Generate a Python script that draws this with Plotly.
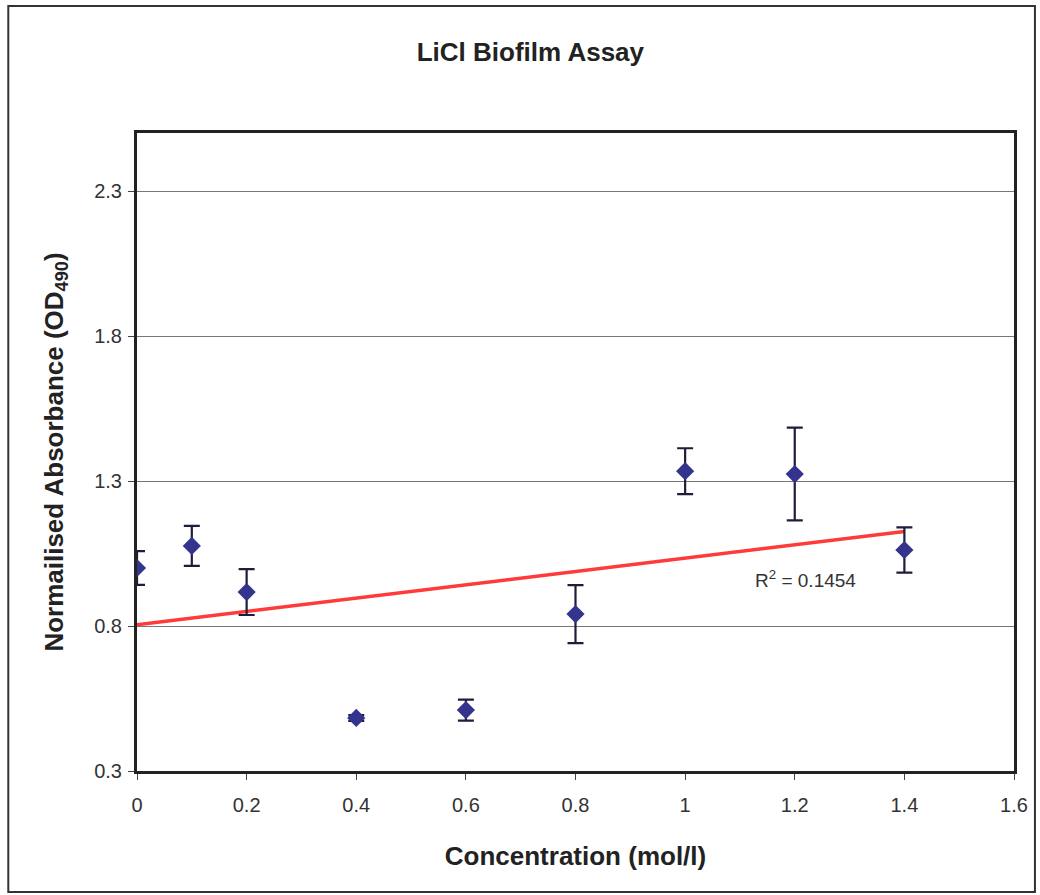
import numpy as np
import plotly.graph_objects as go

# Data
concentration = [0.0, 0.1, 0.2, 0.4, 0.6, 0.8, 1.0, 1.2, 1.4]
absorbance = [1.000, 1.076, 0.917, 0.483, 0.510, 0.841, 1.334, 1.324, 1.062]
error = [0.058, 0.069, 0.079, 0.010, 0.036, 0.100, 0.079, 0.160, 0.078]
y_ticks = [0.3, 0.8, 1.3, 1.8, 2.3]
x_ticks = [0, 0.2, 0.4, 0.6, 0.8, 1.0, 1.2, 1.4, 1.6]
r2_label = "R<sup>2</sup> = 0.1454"

# Linear trendline from the data
slope, intercept = np.polyfit(concentration, absorbance, 1)
trend_x = [min(concentration), max(concentration)]
trend_y = [slope * v + intercept for v in trend_x]

fig = go.Figure()
fig.add_trace(go.Scatter(
    x=trend_x, y=trend_y, mode="lines",
    line=dict(color="#FF3A3A", width=3.5),
    showlegend=False, hoverinfo="skip",
))
fig.add_trace(go.Scatter(
    x=concentration, y=absorbance, mode="markers",
    marker=dict(symbol="diamond", size=14, color="#34348E"),
    error_y=dict(type="data", array=error, visible=True,
                 color="#1E1E3A", thickness=2.2, width=8),
    showlegend=False,
))

L, R, T, B = 137, 24, 133, 124
W, H = 1040, 895
pw, ph = W - L - R, H - T - B

# outer chart frame (in paper coords relative to plot area)
fx0 = (8 - L) / pw
fx1 = (1037 - L) / pw
fy1 = (H - B - 6) / ph
fy0 = (H - B - 892) / ph
fig.add_shape(type="rect", xref="paper", yref="paper",
              x0=fx0, x1=fx1, y0=fy0, y1=fy1,
              line=dict(color="#333333", width=2), layer="below")

fig.add_annotation(x=1.22, y=0.962, xref="x", yref="y", text=r2_label,
                   showarrow=False,
                   font=dict(family="Liberation Sans, Arial", size=19, color="#333333"))

fig.update_layout(
    width=W, height=H,
    margin=dict(l=L, r=R, t=T, b=B),
    paper_bgcolor="white", plot_bgcolor="white",
    title=dict(text="<b>LiCl Biofilm Assay</b>", x=0.51, xref="container",
               xanchor="center", y=1 - 52 / H, yref="container", yanchor="middle",
               font=dict(family="Liberation Sans, Arial", size=26, color="#222222")),
    font=dict(family="Liberation Sans, Arial", color="#333333"),
)
fig.update_xaxes(
    range=[0, 1.6], tickvals=x_ticks,
    ticktext=[f"{v:g}" for v in x_ticks],
    showgrid=False, zeroline=False,
    showline=True, linecolor="#222222", linewidth=3, mirror=True,
    ticks="outside", ticklen=6, tickcolor="#444444", tickwidth=1,
    ticklabelstandoff=8,
    tickfont=dict(size=20, color="#333333"),
    title=dict(text="<b>Concentration (mol/l)</b>", standoff=32,
               font=dict(size=26, color="#222222")),
)
fig.update_yaxes(
    range=[0.3, 2.5], tickvals=y_ticks,
    ticktext=[f"{v:g}" for v in y_ticks],
    showgrid=True, gridcolor="#777777", gridwidth=1, zeroline=False,
    showline=True, linecolor="#222222", linewidth=3, mirror=True,
    ticks="outside", ticklen=6, tickcolor="#444444", tickwidth=1,
    ticklabelstandoff=2,
    tickfont=dict(size=20, color="#333333"),
    title=dict(text="<b>Normailised Absorbance (OD<sub>490</sub>)</b>", standoff=24,
               font=dict(size=26, color="#222222")),
)

fig.write_html("out.html")
